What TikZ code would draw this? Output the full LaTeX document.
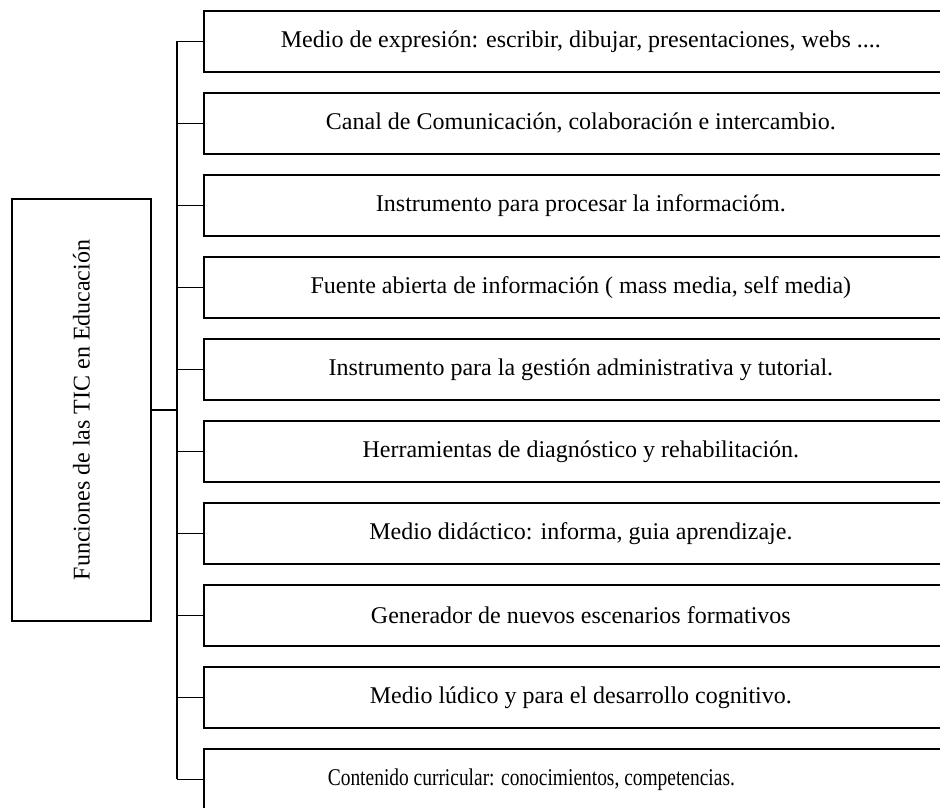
\documentclass[tikz,border=0pt]{standalone}
\usepackage{fontspec}
\usepackage{graphicx}
\setmainfont{Liberation Serif}
\begin{document}
\begin{tikzpicture}[x=1pt,y=-1pt,
  box/.style={draw=black, line width=1.7pt, rectangle, inner sep=0pt,
    minimum width=754pt, minimum height=61.3pt, anchor=west,
    font=\fontsize{24}{28}\selectfont},
  rootbox/.style={draw=black, line width=1.7pt, rectangle, inner sep=0pt,
    minimum width=139pt, minimum height=422pt,
    font=\fontsize{24}{28}\selectfont},
  conn/.style={draw=black, line width=1.4pt},
  thickconn/.style={draw=black, line width=2.4pt}]
\useasboundingbox (0,0) rectangle (940,807);
\clip (0,0) rectangle (940,807);
\fill[white] (0,0) rectangle (940,807);

\node[rootbox] (root) at (81.5,410) {\rotatebox{90}{Funciones de las TIC en Educación}};

\node[box] (b1)  at (203, 41.3) {Medio de expresión: escribir, dibujar, presentaciones, webs ....};
\node[box] (b2)  at (203,123.3) {Canal de Comunicación, colaboración e intercambio.};
\node[box] (b3)  at (203,205.3) {Instrumento para procesar la informacióm.};
\node[box] (b4)  at (203,287.3) {Fuente abierta de información ( mass media, self media)};
\node[box] (b5)  at (203,369.3) {Instrumento para la gestión administrativa y tutorial.};
\node[box] (b6)  at (203,451.3) {Herramientas de diagnóstico y rehabilitación.};
\node[box] (b7)  at (203,533.3) {Medio didáctico: informa, guia aprendizaje.};
\node[box] (b8)  at (203,615.3) {Generador de nuevos escenarios formativos};
\node[box] (b9)  at (203,697.3) {Medio lúdico y para el desarrollo cognitivo.};
\node[box] (b10) at (203,779.3) {\hspace*{-99pt}\scalebox{0.81}[1]{Contenido curricular: conocimientos, competencias.}};

\coordinate (tr) at (177,0);
\foreach \i in {1,...,10} {
  \draw[conn] (b\i.west) -- (b\i.west -| tr);
}
\draw[conn] (b1.west -| tr) -- (b10.west -| tr);
\draw[thickconn] (b2.west -| tr) -- (b9.west -| tr);
\draw[thickconn] (root.east) -- (root.east -| tr);
\end{tikzpicture}
\end{document}
